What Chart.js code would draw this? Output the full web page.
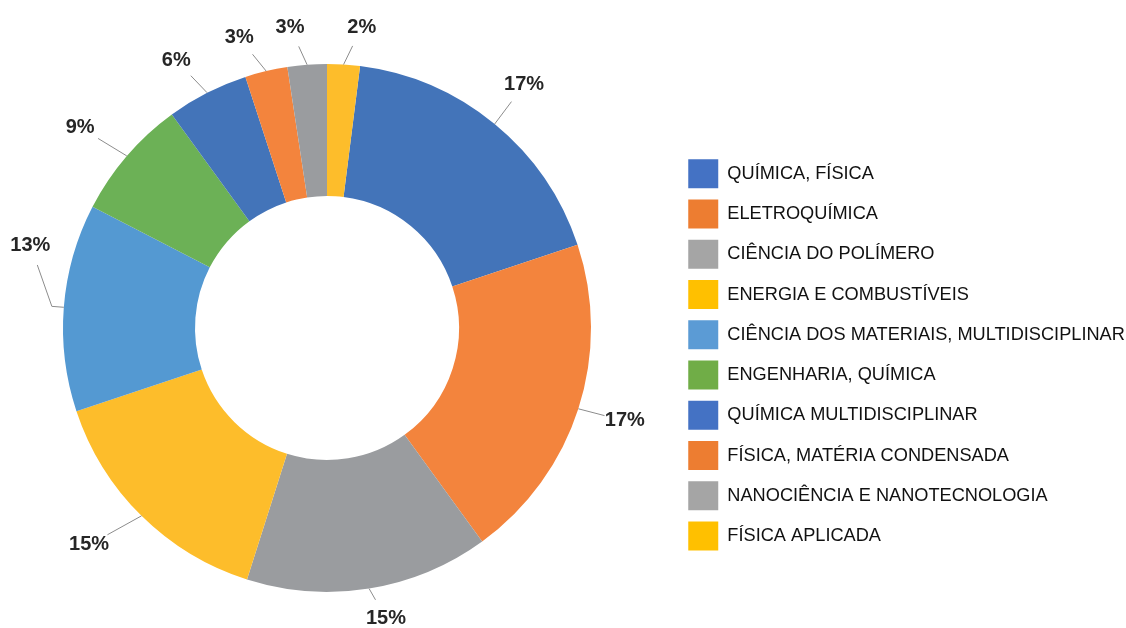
<!DOCTYPE html>
<html lang="pt">
<head>
    <meta charset="UTF-8">
    <title>Áreas de pesquisa</title>
    <script src="https://cdn.jsdelivr.net/npm/chart.js@4.4.0/dist/chart.umd.min.js"></script>
    <style>
        html, body {
            margin: 0;
            padding: 0;
            background: #ffffff;
            overflow: hidden;
        }
        #wrap {
            position: absolute;
            left: -23px; /* shifts the ring so its centre sits where the original has it */
            top: 0;
            width: 1149px;
            height: 628px;
        }
    </style>
</head>
<body>
    <div id="wrap">
        <canvas id="areasChart" width="1149" height="628"></canvas>
    </div>

    <script>
        // Categories as shown in the legend
        const categories = [
            'QUÍMICA, FÍSICA',
            'ELETROQUÍMICA',
            'CIÊNCIA DO POLÍMERO',
            'ENERGIA E COMBUSTÍVEIS',
            'CIÊNCIA DOS MATERIAIS, MULTIDISCIPLINAR',
            'ENGENHARIA, QUÍMICA',
            'QUÍMICA MULTIDISCIPLINAR',
            'FÍSICA, MATÉRIA CONDENSADA',
            'NANOCIÊNCIA E NANOTECNOLOGIA',
            'FÍSICA APLICADA'
        ];

        // Slice sizes (%) as read from the ring itself
        const shares = [17.9, 20.1, 14.9, 15.0, 12.7, 7.4, 5.0, 2.6, 2.4, 2.0];

        // Percent labels as printed next to the slices
        const pctLabels = ['17%', '17%', '15%', '15%', '13%', '9%', '6%', '3%', '3%', '2%'];

        // Slice colours and the (brighter) legend swatch colours
        const sliceColors = ['#4374b9', '#f3843d', '#9a9c9f', '#fdbd2b', '#5499d2', '#6cb156',
                             '#4374b9', '#f3843d', '#9a9c9f', '#fdbd2b'];
        const legendColors = ['#4472c4', '#ed7d31', '#a5a5a5', '#ffc000', '#5b9bd5', '#70ad47',
                              '#4472c4', '#ed7d31', '#a5a5a5', '#ffc000'];

        // Label placement: angle nudge (deg) from slice middle, distance beyond the rim (px)
        const labelNudge = [-0.4, -0.5, -2.3, 3.0, 11.1, -1.6, -2.4, -3.5, -2.7, 3.0];
        const labelGap = [49, 48, 32, 58, 44, 54, 43, 39, 39, 39];

        const FONT = "'Liberation Sans', Arial, sans-serif";
        const total = shares.reduce((a, b) => a + b, 0);

        // Draws the percent labels with their thin grey leader lines
        const pctLabelPlugin = {
            id: 'pctLabels',
            afterDatasetsDraw(chart) {
                const ctx = chart.ctx;
                const meta = chart.getDatasetMeta(0);
                ctx.save();
                ctx.font = 'bold 20px ' + FONT;
                ctx.textAlign = 'center';
                ctx.textBaseline = 'middle';
                meta.data.forEach((arc, i) => {
                    const p = arc.getProps(['x', 'y', 'startAngle', 'endAngle', 'outerRadius'], true);
                    const mid = (p.startAngle + p.endAngle) / 2;
                    const la = mid + labelNudge[i] * Math.PI / 180;
                    const tr = p.outerRadius + labelGap[i];
                    const tx = p.x + Math.cos(la) * tr;
                    const ty = p.y + Math.sin(la) * tr;

                    // leader: rim -> (elbow when the label was moved a lot) -> near text
                    const ex = p.x + Math.cos(mid) * p.outerRadius;
                    const ey = p.y + Math.sin(mid) * p.outerRadius;
                    const elbow = Math.abs(labelNudge[i]) > 5;
                    const bx = elbow ? p.x + Math.cos(mid) * (p.outerRadius + 12) : ex;
                    const by = elbow ? p.y + Math.sin(mid) * (p.outerRadius + 12) : ey;
                    const dx = bx - tx, dy = by - ty;
                    const len = Math.sqrt(dx * dx + dy * dy) || 1;
                    const gap = Math.min(21, len);
                    const lx = tx + dx / len * gap;
                    const ly = ty + dy / len * gap;

                    ctx.strokeStyle = '#8c8c8c';
                    ctx.lineWidth = 1;
                    ctx.beginPath();
                    ctx.moveTo(ex, ey);
                    if (elbow) ctx.lineTo(bx, by);
                    ctx.lineTo(lx, ly);
                    ctx.stroke();

                    ctx.fillStyle = '#262626';
                    ctx.fillText(pctLabels[i], tx, ty);
                });
                ctx.restore();
            }
        };

        const ctx = document.getElementById('areasChart').getContext('2d');
        const areasChart = new Chart(ctx, {
            type: 'doughnut',
            data: {
                labels: categories,
                datasets: [{
                    data: shares,
                    backgroundColor: sliceColors,
                    borderWidth: 0,
                    hoverOffset: 0
                }]
            },
            options: {
                responsive: false,
                animation: false,
                cutout: '50%',
                rotation: shares[shares.length - 1] / total * 360, // last slice ends at 12 o'clock
                layout: {
                    padding: { top: 64, bottom: 36, left: 0, right: 0 }
                },
                plugins: {
                    tooltip: { enabled: false },
                    legend: {
                        position: 'right',
                        align: 'start',
                        maxWidth: 449,
                        title: {
                            display: true,
                            text: '',
                            font: { size: 10 },
                            padding: { top: 72, bottom: 0 }
                        },
                        labels: {
                            boxWidth: 30,
                            boxHeight: 29,
                            padding: 11.25,
                            color: '#111111',
                            font: { family: FONT, size: 18.2 },
                            generateLabels(chart) {
                                const base = Chart.overrides.doughnut.plugins.legend.labels.generateLabels(chart);
                                return base.map((item, i) => Object.assign(item, {
                                    fillStyle: legendColors[i],
                                    strokeStyle: legendColors[i],
                                    lineWidth: 0
                                }));
                            }
                        }
                    }
                }
            },
            plugins: [pctLabelPlugin]
        });
    </script>
</body>
</html>
